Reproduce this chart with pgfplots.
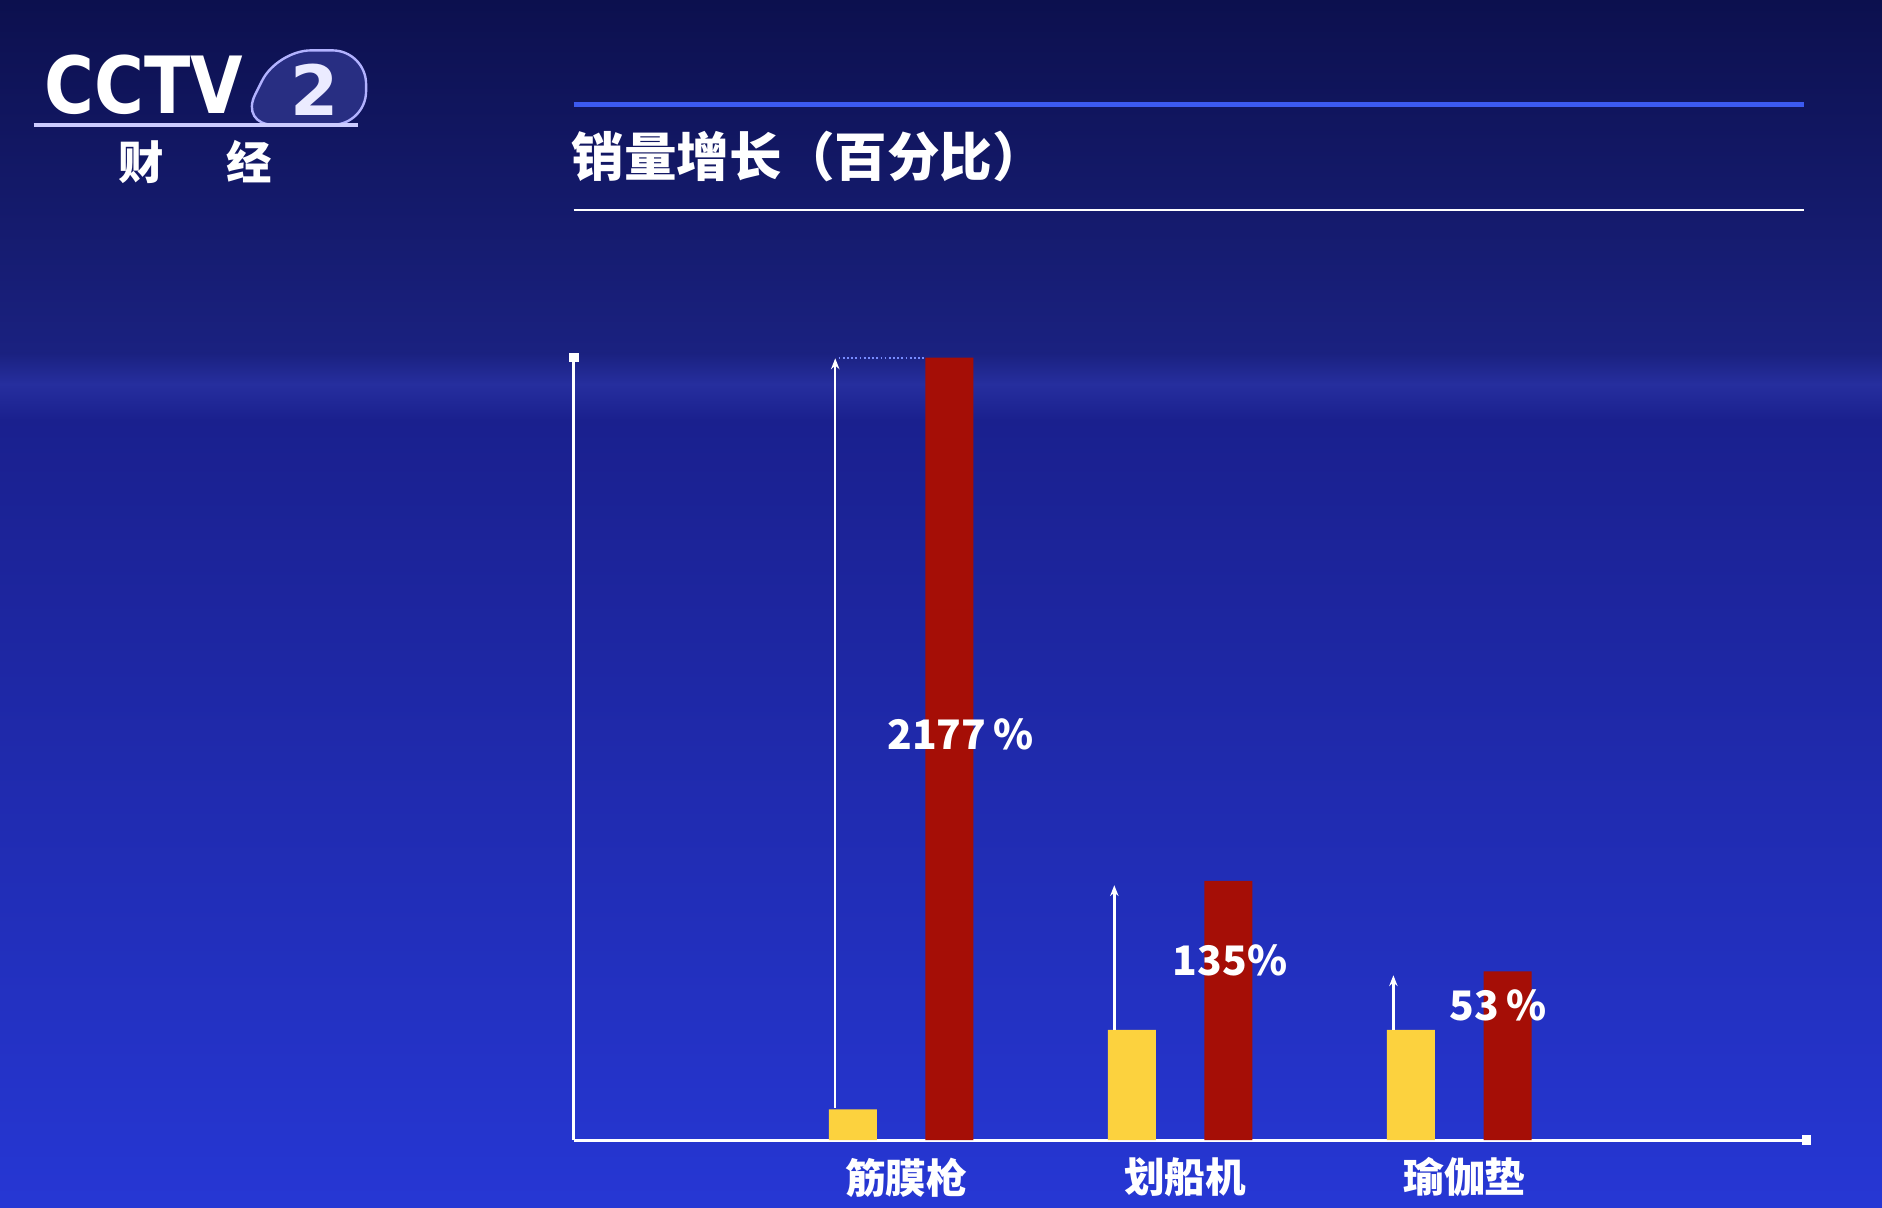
\documentclass[border=0pt]{standalone}
\usepackage{pgfplots}
\pgfplotsset{compat=1.18}
\usepackage{fontspec}
\setmainfont{DejaVu Sans}
\newfontfamily\cjk{Noto Sans CJK SC}
\usetikzlibrary{arrows.meta}

\definecolor{bgtop}{RGB}{12,16,78}
\definecolor{bgupper}{RGB}{26,33,128}
\definecolor{bgband}{RGB}{38,46,158}
\definecolor{bgmid}{RGB}{26,32,142}
\definecolor{bgbot}{RGB}{38,55,212}
\definecolor{baryellow}{RGB}{252,210,62}
\definecolor{barred}{RGB}{165,14,6}
\definecolor{ruleblue}{RGB}{60,90,240}
\definecolor{dotblue}{RGB}{120,140,255}
\definecolor{tabfill}{RGB}{40,46,130}

% base volume (yellow) and volume after growth (red)
\pgfplotstableread{
x   before  after
1   0.90    22.77
2   3.21    7.55
3   3.21    4.91
}\sales

\begin{document}
\begin{tikzpicture}[x=1bp,y=1bp]
\useasboundingbox (0,0) rectangle (1568,1006);
% background
\shade[top color=bgtop, bottom color=bgupper] (0,712) rectangle (1568,1006);
\shade[top color=bgupper, bottom color=bgband] (0,686) rectangle (1568,712);
\shade[top color=bgband, bottom color=bgmid] (0,656) rectangle (1568,686);
\shade[top color=bgmid, bottom color=bgbot] (0,0) rectangle (1568,656);

% channel logo
\fill[tabfill, draw=white!70!blue, line width=2bp, rounded corners=28bp]
  (200,902) -- (231,964) -- (305,964) -- (305,902) -- cycle;
\draw[white!80!blue, line width=3bp] (28,902) -- (298,902);
\node[font=\bfseries\fontsize{66}{66}\selectfont, text=white, xscale=0.86, anchor=center] at (120,935) {CCTV};
\node[font=\bfseries\fontsize{58}{58}\selectfont, text=white!92!blue] at (262,931) {2};
\node[font=\cjk\bfseries\fontsize{38}{38}\selectfont, text=white] at (118,871) {财};
\node[font=\cjk\bfseries\fontsize{38}{38}\selectfont, text=white] at (208,871) {经};

% title block
\draw[ruleblue, line width=4bp] (478,919) -- (1503,919);
\draw[white, line width=2bp] (478,831) -- (1503,831);
\node[font=\cjk\bfseries\fontsize{44}{44}\selectfont, text=white, anchor=west, inner sep=0pt] at (476,876) {销量增长（百分比）};

\begin{axis}[
  at={(478bp,56bp)}, anchor=south west,
  scale only axis, width=1027bp, height=652bp,
  xmin=-0.174, xmax=4.243, ymin=0, ymax=22.77,
  axis lines=left, axis line style={white, line width=2.5bp, -},
  ytick=\empty,
  xtick={1,2,3}, xticklabels={筋膜枪,划船机,瑜伽垫},
  major tick length=0pt,
  xticklabel style={font=\cjk\bfseries\fontsize{34}{34}\selectfont, text=white, yshift=-11bp, xshift=4bp},
  clip=false,
]
\addplot[ybar, bar width=40bp, bar shift=-40.5bp, fill=baryellow, draw=none] table[x=x, y=before] {\sales};
\addplot[ybar, bar width=40bp, bar shift=40bp, fill=barred, draw=none] table[x=x, y=after] {\sales};

% growth arrows
\addplot[white, line width=2bp, -{Stealth[length=9bp,width=7bp]}] coordinates {(0.763,0.95) (0.763,22.75)};
\addplot[white, line width=2bp, -{Stealth[length=9bp,width=7bp]}] coordinates {(1.763,3.21) (1.763,7.42)};
\addplot[white, line width=2bp, -{Stealth[length=9bp,width=7bp]}] coordinates {(2.763,3.21) (2.763,4.80)};
\addplot[dotblue, line width=1.5bp, dotted] coordinates {(0.775,22.77) (1.086,22.77)};

% axis end caps
\fill[white] ([xshift=-4bp,yshift=-4bp]rel axis cs:0,1) rectangle ([xshift=4bp,yshift=4bp]rel axis cs:0,1);
\fill[white] ([xshift=-4bp,yshift=-4bp]rel axis cs:1,0) rectangle ([xshift=4bp,yshift=4bp]rel axis cs:1,0);

% growth labels
\node[font=\cjk\bfseries\fontsize{34}{34}\selectfont, text=white] at (axis cs:1.211,11.81) {2177\,\%};
\node[font=\cjk\bfseries\fontsize{34}{34}\selectfont, text=white] at (axis cs:2.178,5.24) {135\%};
\node[font=\cjk\bfseries\fontsize{34}{34}\selectfont, text=white] at (axis cs:3.138,3.91) {53\,\%};
\end{axis}
\end{tikzpicture}
\end{document}
